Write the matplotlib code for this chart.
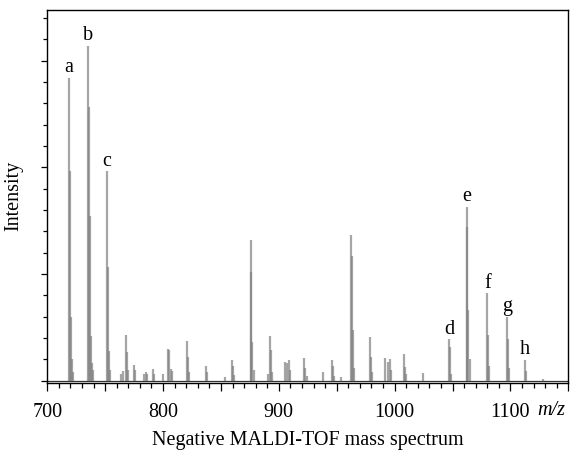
import numpy as np
import matplotlib
matplotlib.use('Agg')
import matplotlib.pyplot as plt
from matplotlib.ticker import MultipleLocator, FuncFormatter
from matplotlib.transforms import blended_transform_factory

plt.rcParams['font.family'] = ['Liberation Serif', 'DejaVu Serif']

# stick spectrum (m/z, intensity in tick units)
stick_mz = [718.7, 719.3, 720.3, 721.3, 722.3,
            735.5, 735.9, 736.5, 737.5, 738.5, 739.5,
            751.5, 752.2, 753.2, 754.2,
            764.0, 765.5,
            768.0, 768.7, 769.7,
            775.0, 775.8,
            783.5, 785.0, 786.0,
            791.5, 792.3,
            800.0,
            804.5, 805.2, 806.5, 807.5,
            821.0, 821.7, 822.7,
            837.3, 838.2,
            853.5,
            859.5, 860.3, 861.3,
            875.6, 876.3, 877.2, 878.2,
            890.5, 892.6, 893.3, 894.3,
            905.3, 906.7, 908.7, 909.5,
            922.0, 922.8, 924.0,
            937.8,
            945.9, 946.7, 947.7,
            953.9,
            962.3, 962.9, 963.8, 964.8,
            978.7, 979.4, 980.4,
            991.6, 994.0, 996.0, 996.8,
            1008.0, 1008.8, 1010.0,
            1024.4,
            1047.2, 1047.9, 1049.0,
            1062.2, 1062.8, 1063.8, 1064.8,
            1080.0, 1080.8, 1081.8,
            1097.0, 1097.7, 1098.7,
            1112.8, 1113.6,
            1128.0]
stick_int = [14.2, 9.8, 3.0, 1.0, 0.4,
             15.7, 12.8, 7.7, 2.1, 0.8, 0.5,
             9.8, 5.3, 1.4, 0.5,
             0.3, 0.45,
             2.13, 1.35, 0.5,
             0.73, 0.5,
             0.3, 0.38, 0.3,
             0.54, 0.3,
             0.3,
             1.5, 1.45, 0.55, 0.45,
             1.85, 1.1, 0.4,
             0.68, 0.4,
             0.15,
             0.96, 0.7, 0.25,
             6.57, 5.1, 1.8, 0.5,
             0.3, 2.09, 1.43, 0.4,
             0.85, 0.8, 0.96, 0.5,
             1.05, 0.6, 0.2,
             0.41,
             0.96, 0.7, 0.2,
             0.18,
             6.82, 5.84, 2.37, 0.6,
             2.05, 1.1, 0.4,
             1.07, 0.88, 0.99, 0.5,
             1.24, 0.65, 0.3,
             0.37,
             1.93, 1.58, 0.3,
             8.15, 7.2, 3.3, 1.0,
             4.09, 2.13, 0.7,
             3.0, 1.93, 0.6,
             0.96, 0.46,
             0.06]

peak_labels = ['a', 'b', 'c', 'd', 'e', 'f', 'g', 'h']
peak_mz = [718.7, 735.5, 751.5, 1047.2, 1062.2, 1080.0, 1097.0, 1112.8]
peak_int = [14.2, 15.7, 9.8, 1.93, 8.15, 4.09, 3.0, 0.96]

fig = plt.figure(figsize=(5.72, 4.53), dpi=100)
ax = fig.add_axes([0.0827, 0.1556, 0.9108, 0.8224])

ax.axhline(0, color='#333333', lw=0.9, zorder=1)
ax.vlines(stick_mz, 0, stick_int, colors='#808080', alpha=0.7, lw=1.6, zorder=2)

for lab, x, y in zip(peak_labels, peak_mz, peak_int):
    ax.annotate(lab, (x, y), xytext=(0, 4), textcoords='offset points',
                ha='center', va='baseline', fontsize=14.5)

ax.set_xlim(700, 1150)
ax.set_ylim(-0.094, 17.37)

ax.xaxis.set_major_locator(MultipleLocator(50))
ax.xaxis.set_minor_locator(MultipleLocator(10))
ax.xaxis.set_major_formatter(FuncFormatter(lambda v, p: f'{v:.0f}' if v % 100 == 0 else ''))
ax.yaxis.set_major_locator(MultipleLocator(5))
ax.yaxis.set_minor_locator(MultipleLocator(1))
ax.yaxis.set_major_formatter(FuncFormatter(lambda v, p: ''))

ax.tick_params(axis='x', which='major', direction='out', length=6, width=0.9, pad=9, labelsize=14.5)
ax.tick_params(axis='x', which='minor', direction='out', length=3.3, width=0.9)
ax.tick_params(axis='y', which='major', direction='out', length=4, width=0.9)
ax.tick_params(axis='y', which='minor', direction='out', length=2.6, width=0.9)
for s in ax.spines.values():
    s.set_linewidth(1.0)

tr = blended_transform_factory(ax.transData, ax.transAxes)
ax.text(1123, -0.0885, 'm/z', transform=tr, fontsize=14.5, style='italic', va='baseline')

ax.set_ylabel('Intensity', fontsize=14.5, labelpad=10)
ax.set_xlabel('Negative MALDI-TOF mass spectrum', fontsize=14.5, labelpad=6)

fig.savefig('out.png', dpi=100)
